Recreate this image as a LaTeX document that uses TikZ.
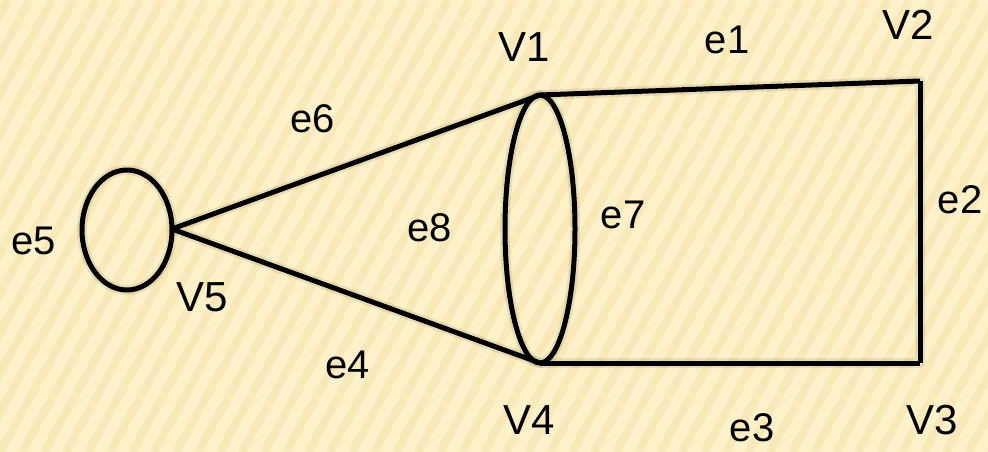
\documentclass[tikz,border=0pt]{standalone}
\usepackage{fontspec}
\setmainfont{Liberation Sans}
\definecolor{bgcol}{HTML}{FDF1C9}
\definecolor{stripecol}{HTML}{F5DFA4}
\begin{document}
\begin{tikzpicture}[x=1pt,y=-1pt,
  edge/.style={line width=5pt, black, line join=round},
  shade/.style={line width=10pt, black, opacity=0.08, line join=round},
  stripe/.style={line width=8pt, stripecol, opacity=0.45},
  vlbl/.style={font=\fontsize{42}{42}\selectfont, inner sep=0pt},
  elbl/.style={font=\fontsize{40}{40}\selectfont, inner sep=0pt}]
\useasboundingbox (0,0) rectangle (988,452);
\fill[bgcol] (0,0) rectangle (988,452);
\begin{scope}
\clip (0,0) rectangle (988,452);
\foreach \i in {-14,...,46} {
  \draw[stripe] (\i*22,452) -- ++(250,-452);
}
\end{scope}
% vertices
\coordinate (V1) at (540,95);
\coordinate (V2) at (920,81);
\coordinate (V3) at (920,363);
\coordinate (V4) at (540,363);
\coordinate (V5) at (172,229);
\coordinate (C8) at (540,229);
\coordinate (C5) at (127,230);
% shadows
\begin{scope}[shift={(0,8)}]
\draw[shade] (V5) -- (V1) -- (V2) -- (V3) -- (V4) -- (V5);
\draw[shade] (C8) ellipse [x radius=35, y radius=134];
\draw[shade] (C5) ellipse [x radius=45, y radius=60];
\end{scope}
% edges
\draw[edge] (V1) -- (V2);
\draw[edge] (V2) -- (V3);
\draw[edge] (V3) -- (V4);
\draw[edge] (V4) -- (V5);
\draw[edge] (V5) -- (V1);
\draw[edge] (C8) ellipse [x radius=35, y radius=134];
\draw[edge] (C5) ellipse [x radius=45, y radius=60];
% labels
\node[vlbl] (lV1) at (524,47) {V1};
\node[vlbl] (lV2) at (908,25) {V2};
\node[vlbl] (lV3) at (932,420) {V3};
\node[vlbl] (lV4) at (529,420) {V4};
\node[vlbl] (lV5) at (202,297) {V5};
\node[elbl] (le1) at (727,40) {e1};
\node[elbl] (le2) at (960,200) {e2};
\node[elbl] (le3) at (752,428) {e3};
\node[elbl] (le4) at (348,365) {e4};
\node[elbl] (le5) at (34,241) {e5};
\node[elbl] (le6) at (313,119) {e6};
\node[elbl] (le7) at (623,215) {e7};
\node[elbl] (le8) at (430,228) {e8};
\end{tikzpicture}
\end{document}
